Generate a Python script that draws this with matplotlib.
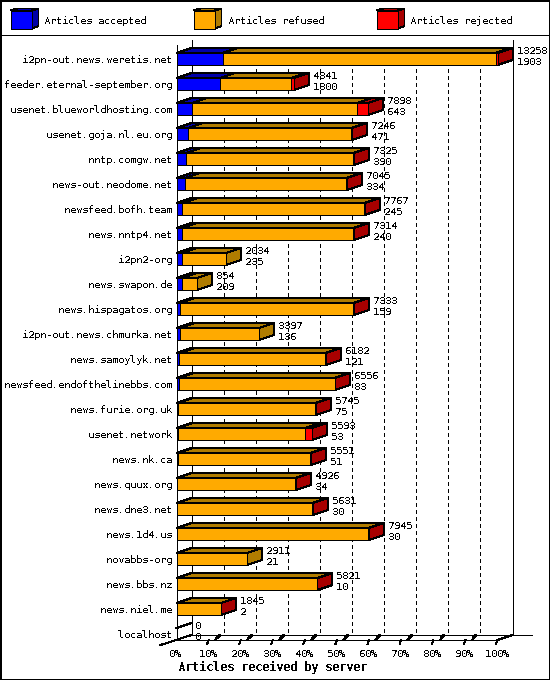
import matplotlib

matplotlib.use("Agg")
import matplotlib.pyplot as plt
from matplotlib.patches import Polygon

plt.rcParams["font.family"] = ["DejaVu Sans Mono"]
plt.rcParams["text.antialiased"] = False
plt.rcParams["text.hinting"] = "native"
plt.rcParams["text.hinting_factor"] = 1
plt.rcParams["lines.scale_dashes"] = False

servers = [
    "i2pn-out.news.weretis.net", "feeder.eternal-september.org", "usenet.blueworldhosting.com",
    "usenet.goja.nl.eu.org", "nntp.comgw.net", "news-out.neodome.net", "newsfeed.bofh.team",
    "news.nntp4.net", "i2pn2-org", "news.swapon.de", "news.hispagatos.org",
    "i2pn-out.news.chmurka.net", "news.samoylyk.net", "newsfeed.endofthelinebbs.com",
    "news.furie.org.uk", "usenet.network", "news.nk.ca", "news.quux.org", "news.dne3.net",
    "news.1d4.us", "novabbs-org", "news.bbs.nz", "news.niel.me", "localhost",
]
totals = [13258, 4841, 7898, 7246, 7325, 7045, 7767, 7314, 2034, 854, 7333, 3397,
          6182, 6556, 5745, 5593, 5551, 4926, 5631, 7945, 2911, 5821, 1845, 0]
accepted = [1903, 1800, 643, 471, 390, 334, 245, 240, 235, 209, 159, 136,
            121, 83, 75, 53, 51, 34, 30, 30, 21, 10, 2, 0]
rejected = [80, 100, 440, 30, 50, 50, 40, 30, 0, 0, 30, 0,
            30, 30, 30, 300, 30, 20, 20, 30, 0, 20, 20, 0]
pct_ticks = [0, 10, 20, 30, 40, 50, 60, 70, 80, 90, 100]
legend_labels = ["Articles accepted", "Articles refused", "Articles rejected"]

BLUE, DARK_BLUE = "#0000ff", "#0000a8"
ORANGE, DARK_ORANGE = "#ffaa00", "#b07c00"
RED, DARK_RED = "#ff0000", "#a80000"
PX = 72 / 100  # one pixel in points
FONT_PX = 10.4

fig = plt.figure(figsize=(5.5, 6.8), dpi=100)

# full figure axes in pixels, for the frame and the legend
page = fig.add_axes([0, 0, 1, 1])
page.set_xlim(0, 550)
page.set_ylim(680, 0)
page.axis("off")

# plot axes: x in articles, y in rows
ax = fig.add_axes([176.5 / 550, (680 - 646.5) / 680, 321 / 550, 600 / 680])
ax.set_xlim(0, max(totals))
ax.set_ylim(23.5, -0.5)
ax.axis("off")

x_px = max(totals) / 321
y_px = 1 / 25
depth_x = 15 * x_px
depth_y = 5 * y_px
half_h = 6 * y_px
axis_y = len(servers) - 1 + half_h


def add_poly(target, pts, color, z):
    target.add_patch(Polygon(pts, closed=True, facecolor=color, edgecolor="black",
                             linewidth=PX, antialiased=False, clip_on=False, zorder=z))


def add_line(xs, ys, z=1, lw=1.0, **kw):
    ax.plot(xs, ys, color="black", linewidth=lw * PX, antialiased=False,
            clip_on=False, zorder=z, **kw)


# frame and legend divider
page.add_patch(plt.Rectangle((0.5, 0.5), 549, 679, fill=False, edgecolor="black",
                             linewidth=2 * PX, antialiased=False))
page.plot([0, 550], [35, 35], color="black", linewidth=PX, antialiased=False)

legend_x = [10.5, 193.5, 376.5]
legend_colors = [(BLUE, DARK_BLUE), (ORANGE, DARK_ORANGE), (RED, DARK_RED)]
for lx, (front, dark), label in zip(legend_x, legend_colors, legend_labels):
    add_poly(page, [(lx + 21, 10.5), (lx + 28, 8.5), (lx + 28, 26), (lx + 21, 28.5)], dark, 2)
    add_poly(page, [(lx, 10.5), (lx + 7, 8.5), (lx + 28, 8.5), (lx + 21, 10.5)], dark, 2)
    add_poly(page, [(lx, 10.5), (lx + 21, 10.5), (lx + 21, 28.5), (lx, 28.5)], front, 3)
    page.text(lx + 34, 24, label, fontsize=FONT_PX * PX, ha="left", va="baseline")

# back wall, floor and gridlines
wall_top = -19 * y_px
add_line([0, 0], [-14 * y_px, axis_y])
add_line([depth_x, depth_x], [wall_top, axis_y - depth_y])
add_line([max(totals) + depth_x] * 2, [wall_top, axis_y - depth_y])
add_line([0, max(totals)], [axis_y, axis_y])
add_line([depth_x, max(totals) + 34 * x_px], [axis_y - depth_y] * 2)
add_line([-16 * x_px, depth_x], [axis_y + depth_y, axis_y - depth_y])
add_line([max(totals), max(totals) + depth_x], [axis_y, axis_y - depth_y])

for pct in pct_ticks:
    x = pct / 100 * max(totals)
    if 0 < pct < 100:
        add_line([x + depth_x] * 2, [-11 * y_px, axis_y - depth_y], z=1,
                 linestyle=(0, (4 * PX, 4 * PX)))
        add_line([x + 6.5 * x_px, x + 10 * x_px], [axis_y, axis_y - 3.5 * y_px], z=1)
        add_line([x + 8.5 * x_px, x + 10.5 * x_px], [axis_y - 2.5 * y_px, axis_y - 4.5 * y_px],
                 z=1, lw=2)
    if pct > 0:
        add_line([x, x - 1.5 * x_px], [axis_y, axis_y + 4 * y_px], z=1)
    ax.text(x - 1 * x_px, axis_y + 17 * y_px, f"{pct}%", fontsize=FONT_PX * PX,
            ha="center", va="baseline", clip_on=False, zorder=6)

ax.text(max(totals) / 2 - 64 * x_px, axis_y + 31 * y_px, "Articles received by server",
        fontsize=11.6 * PX, fontweight="bold", ha="center", va="baseline", zorder=6)

# bars, back to front so later rows overlap earlier ones
for row, name in enumerate(servers):
    total, acc, rej = totals[row], accepted[row], rejected[row]
    edges = [0, acc, total - rej, total]
    top_y = row - half_h
    bot_y = row + half_h

    if total > 0:
        # top faces first, then side, then front faces
        for (x0, x1), dark in zip(zip(edges[:-1], edges[1:]), [DARK_BLUE, DARK_ORANGE, DARK_RED]):
            if x1 > x0:
                add_poly(ax, [(x0, top_y), (x0 + depth_x, top_y - depth_y),
                              (x1 + depth_x, top_y - depth_y), (x1, top_y)], dark, 3)
        side = DARK_RED if rej > 0 else DARK_ORANGE
        add_poly(ax, [(total, top_y), (total + depth_x, top_y - depth_y),
                      (total + depth_x, bot_y - depth_y), (total, bot_y)], side, 3)
        for (x0, x1), front in zip(zip(edges[:-1], edges[1:]), [BLUE, ORANGE, RED]):
            if x1 > x0:
                add_poly(ax, [(x0, top_y), (x1, top_y), (x1, bot_y), (x0, bot_y)], front, 4)
    else:
        add_line([0, depth_x], [top_y, top_y - depth_y], z=3)

    ax.text(-4.5 * x_px, row + 4 * y_px, name, fontsize=FONT_PX * PX, ha="right", va="baseline", zorder=6)
    ax.text(total + depth_x + 4 * x_px, row - 5 * y_px, str(total), fontsize=FONT_PX * PX,
            ha="left", va="baseline", zorder=6)
    ax.text(total + depth_x + 4 * x_px, row + 6 * y_px, str(acc), fontsize=FONT_PX * PX,
            ha="left", va="baseline", zorder=6)

fig.savefig("out.png", dpi=100)
plt.close(fig)
